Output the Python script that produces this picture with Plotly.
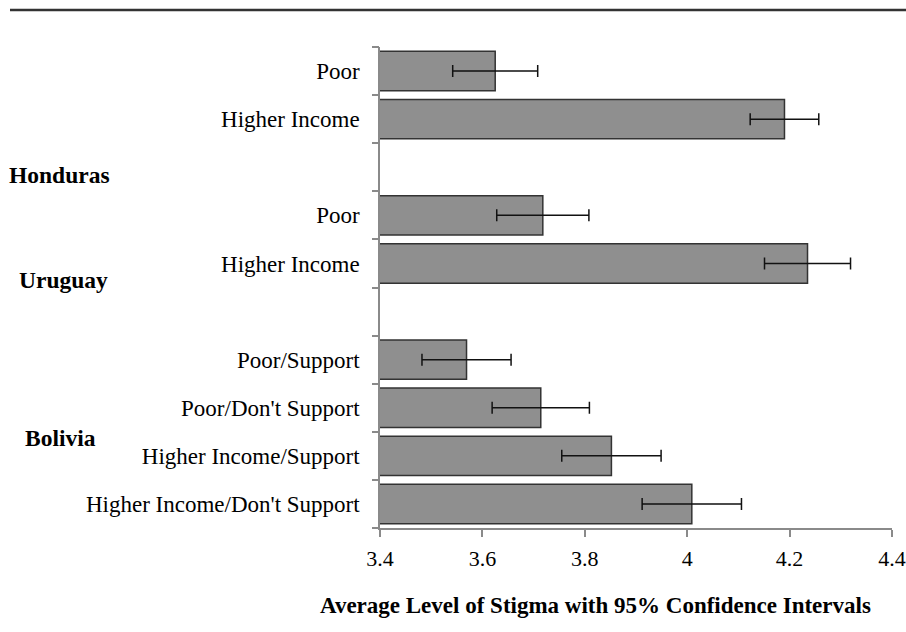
import plotly.graph_objects as go

# ---- data (top to bottom) ----
row_labels = ["Poor", "Higher Income", "",
              "Poor", "Higher Income", "",
              "Poor/Support", "Poor/Don't Support",
              "Higher Income/Support", "Higher Income/Don't Support"]
means = [3.625, 4.19, None, 3.718, 4.235, None, 3.569, 3.714, 3.852, 4.009]
ci_half = [0.083, 0.067, None, 0.090, 0.084, None, 0.087, 0.095, 0.097, 0.097]

countries = ["Honduras", "Uruguay", "Bolivia"]
country_pos = [2.16, 4.34, 7.63]          # vertical slot position of the country labels
country_px = [7, 17, 23]                   # left edge (px) of the country labels

x_ticks = [3.4, 3.6, 3.8, 4.0, 4.2, 4.4]
x_ticktext = ["3.4", "3.6", "3.8", "4", "4.2", "4.4"]
x_title = "Average Level of Stigma with 95% Confidence Intervals"

FONT = "'Times New Roman', 'Liberation Serif', 'DejaVu Serif', serif"
AXIS_COL = "#8a8a8a"
FS = 23

W, H = 906, 632
L, R, T, B = 380, 14, 47, 104
pw = W - L - R
ph = H - T - B

idx = list(range(len(row_labels)))
label_idx = [i for i in idx if row_labels[i]]

fig = go.Figure()
fig.add_trace(go.Bar(
    y=idx, x=means, orientation="h", width=0.82,
    marker=dict(color="#8f8f8f", line=dict(color="#333333", width=1.5)),
    error_x=dict(type="data", array=ci_half, color="#111111", thickness=1.5, width=6),
    showlegend=False, hoverinfo="x+y",
))

# invisible trace on overlay axis so boundary ticks show
fig.add_trace(go.Scatter(x=[None], y=[None], yaxis="y2", showlegend=False))

n = len(row_labels)
fig.update_layout(
    width=W, height=H,
    margin=dict(l=L, r=R, t=T, b=B, autoexpand=False),
    paper_bgcolor="white", plot_bgcolor="white",
    font=dict(family=FONT, size=FS, color="black"),
    xaxis=dict(range=[3.4, 4.4], tickvals=x_ticks, ticktext=x_ticktext, automargin=False,
               showgrid=False, zeroline=False, showline=True, linecolor=AXIS_COL, linewidth=1.5,
               ticks="outside", ticklen=7, tickcolor=AXIS_COL, tickwidth=1.5, ticklabelstandoff=3,
               tickfont=dict(family=FONT, size=22, color="black")),
    yaxis=dict(range=[n - 0.5, -0.5], tickmode="array", tickvals=label_idx,
               ticktext=[row_labels[i] for i in label_idx], automargin=False,
               showgrid=False, zeroline=False, showline=True, linecolor=AXIS_COL, linewidth=1.5,
               ticks="", ticklabelstandoff=14,
               tickfont=dict(family=FONT, size=FS, color="black")),
    yaxis2=dict(overlaying="y", side="left", range=[n - 0.5, -0.5], tickmode="array",
                tickvals=[i - 0.5 for i in range(n + 1)], showticklabels=False, automargin=False,
                ticks="outside", ticklen=7, tickcolor=AXIS_COL, tickwidth=1.5,
                showgrid=False, zeroline=False, showline=False),
    bargap=0.18,
)

annotations = []
for name, pos, px in zip(countries, country_pos, country_px):
    annotations.append(dict(text=f"<b>{name}</b>", x=(px - L) / pw, xref="paper",
                            y=pos, yref="y", xanchor="left", yanchor="middle",
                            showarrow=False, font=dict(family=FONT, size=23.5, color="black")))
annotations.append(dict(text=f"<b>{x_title}</b>", x=(595 - L) / pw, xref="paper",
                        y=(H - B - 605) / ph, yref="paper", xanchor="center", yanchor="middle",
                        showarrow=False, font=dict(family=FONT, size=FS, color="black")))
fig.update_layout(annotations=annotations)

# rule line at the top of the figure
fig.add_shape(type="line", xref="paper", yref="paper",
              x0=(10 - L) / pw, x1=(W - L) / pw,
              y0=1 + (T - 10) / ph, y1=1 + (T - 10) / ph,
              line=dict(color="#333333", width=2.5))

fig.write_html("out.html")
